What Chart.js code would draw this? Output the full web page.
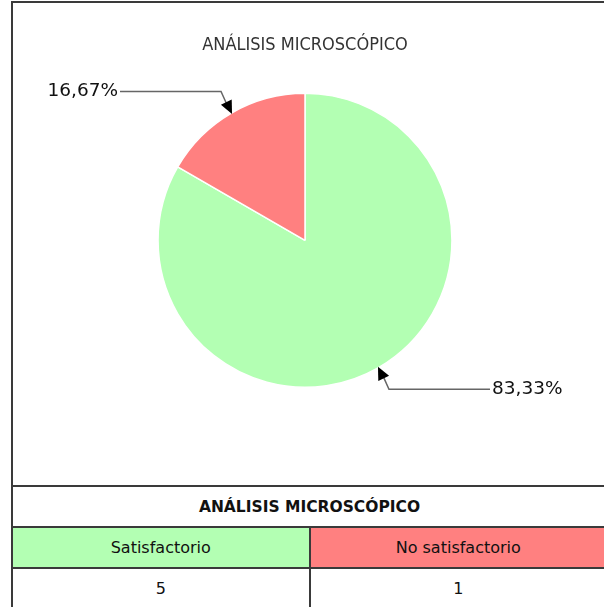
<!DOCTYPE html>
<html>
<head>
<meta charset="utf-8">
<script src="https://cdn.jsdelivr.net/npm/chart.js@4"></script>
<style>
  body { margin: 0; background: #fff; font-family: "DejaVu Sans", sans-serif; }
  .box { position: absolute; left: 11px; top: 1px; width: 593px; border: 2px solid #3a3a3a; border-bottom: none; }
  .chartWrap { position: relative; width: 593px; height: 482px; }
  table { width: 100%; border-collapse: collapse; table-layout: fixed; }
  td { border: 2px solid #3a3a3a; height: 39px; text-align: center; font-size: 16px; color: #111; padding: 0; }
  tr:first-child td { border-left: none; border-right: none; font-weight: bold; font-size: 15.5px; }
  tr td:first-child { border-left: none; }
  tr td:last-child { border-right: none; }
</style>
</head>
<body>
<div class="box">
  <div class="chartWrap"><canvas id="pieChart"></canvas></div>
  <table>
    <tr><td colspan="2" id="tblTitle"></td></tr>
    <tr id="catRow"></tr>
    <tr id="valRow"></tr>
  </table>
</div>
<script>
// Data
const chartTitle = "ANÁLISIS MICROSCÓPICO";
const categories = ["Satisfactorio", "No satisfactorio"];
const counts = [5, 1];
const sliceColors = ["#b3ffb3", "#ff8080"];

const total = counts.reduce((a, b) => a + b, 0);
const pctText = counts.map(v => (v / total * 100).toFixed(2).replace(".", ",") + "%");

// Table under the chart
document.getElementById("tblTitle").textContent = chartTitle;
categories.forEach(function (c, i) {
    const td = document.createElement("td");
    td.textContent = c;
    td.style.background = sliceColors[i];
    document.getElementById("catRow").appendChild(td);
    const tv = document.createElement("td");
    tv.textContent = counts[i];
    document.getElementById("valRow").appendChild(tv);
});

// Leader lines with arrowheads and percentage labels
const calloutPlugin = {
    id: "callouts",
    afterDatasetsDraw(chart) {
        const ctx = chart.ctx;
        const arcs = chart.getDatasetMeta(0).data;
        arcs.forEach(function (arc, i) {
            const mid = (arc.startAngle + arc.endAngle) / 2;
            const cx = Math.cos(mid), cy = Math.sin(mid);
            const tipX = arc.x + cx * (arc.outerRadius - 1);
            const tipY = arc.y + cy * (arc.outerRadius - 1);
            const elX = tipX + cx * 22;
            const elY = tipY + cy * 26;
            const dir = cx < 0 ? -1 : 1;
            const endX = elX + dir * 101;

            ctx.save();
            ctx.strokeStyle = "#666";
            ctx.lineWidth = 1.5;
            ctx.beginPath();
            ctx.moveTo(endX, elY);
            ctx.lineTo(elX, elY);
            ctx.lineTo(tipX + cx * 8, tipY + cy * 8);
            ctx.stroke();

            // arrowhead
            const ang = Math.atan2(tipY - elY, tipX - elX);
            const len = 13, half = 6;
            ctx.fillStyle = "#000";
            ctx.beginPath();
            ctx.moveTo(tipX, tipY);
            ctx.lineTo(tipX - len * Math.cos(ang) + half * Math.sin(ang), tipY - len * Math.sin(ang) - half * Math.cos(ang));
            ctx.lineTo(tipX - len * Math.cos(ang) - half * Math.sin(ang), tipY - len * Math.sin(ang) + half * Math.cos(ang));
            ctx.closePath();
            ctx.fill();

            ctx.font = "18.5px 'DejaVu Sans'";
            ctx.fillStyle = "#111";
            ctx.textBaseline = "middle";
            ctx.textAlign = dir < 0 ? "right" : "left";
            ctx.fillText(pctText[i], endX + dir * 2, elY);
            ctx.restore();
        });
    }
};

const ctx = document.getElementById("pieChart").getContext("2d");
new Chart(ctx, {
    type: "pie",
    data: {
        labels: categories,
        datasets: [{
            data: counts,
            backgroundColor: sliceColors,
            borderColor: "#ffffff",
            borderWidth: 1.5
        }]
    },
    options: {
        responsive: true,
        maintainAspectRatio: false,
        animation: false,
        layout: { padding: { top: 0, bottom: 97, left: 0, right: 9 } },
        plugins: {
            legend: { display: false },
            tooltip: { enabled: false },
            title: {
                display: true,
                text: chartTitle,
                color: "#333",
                font: { family: "'Liberation Sans Narrow', 'DejaVu Sans Condensed', sans-serif", size: 18, weight: "normal" },
                padding: { top: 32, bottom: 36 }
            }
        }
    },
    plugins: [calloutPlugin]
});
</script>
</body>
</html>
